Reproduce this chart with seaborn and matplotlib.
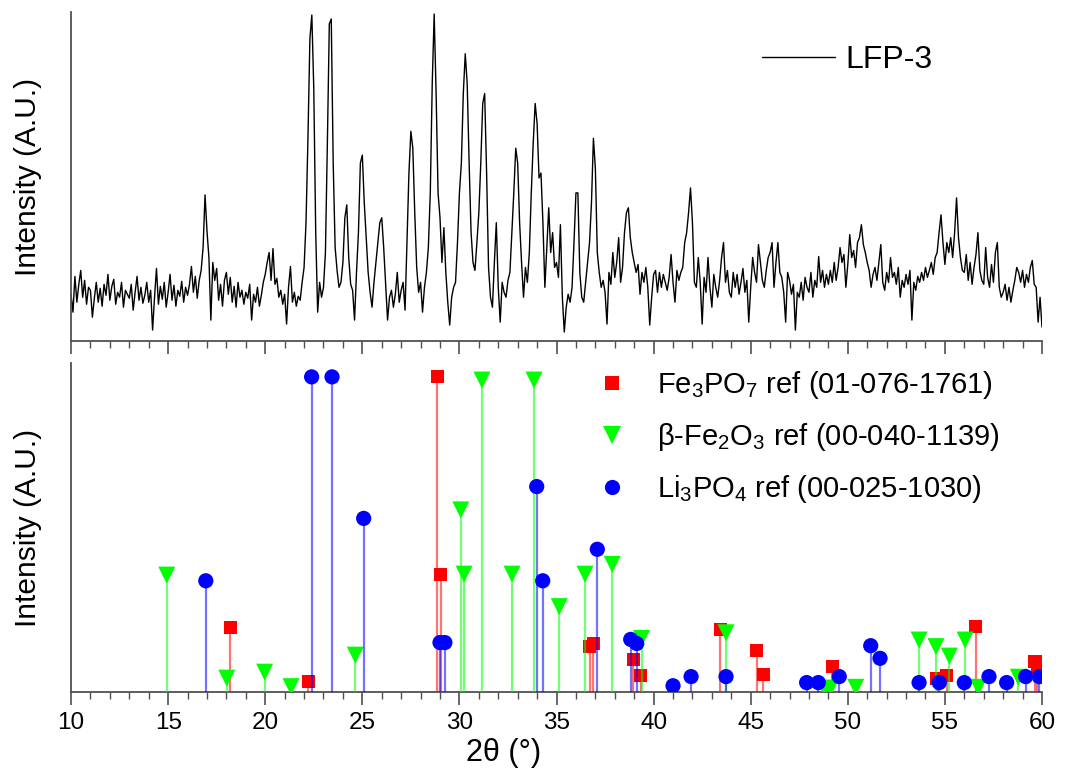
import numpy as np
import pandas as pd
import matplotlib
matplotlib.use("Agg")
import matplotlib.pyplot as plt
from matplotlib.lines import Line2D
from matplotlib.ticker import MultipleLocator
import seaborn as sns

# ---------------- data ----------------
two_theta_start = 10.0
two_theta_step = 0.1
lfp3_intensity = [
    48, 30, 66, 40, 58, 72, 45, 62, 38, 55,
    52, 25, 44, 60, 40, 54, 36, 58, 47, 68,
    42, 56, 63, 38, 50, 45, 60, 35, 52, 48,
    44, 58, 32, 50, 66, 42, 55, 39, 47, 60,
    40, 52, 12, 45, 74, 38, 56, 43, 60, 35,
    50, 68, 42, 57, 36, 52, 46, 61, 40, 55,
    47, 58, 76, 50, 66, 44, 62, 72, 95, 148,
    112, 85, 22, 80, 62, 74, 42, 58, 36, 62,
    70, 48, 65, 40, 56, 35, 60, 45, 52, 38,
    50, 44, 58, 22, 48, 40, 55, 36, 47, 60,
    68, 80, 90, 62, 94, 58, 64, 45, 52, 38,
    48, 18, 55, 76, 40, 50, 36, 46, 42, 60,
    75, 120, 205, 305, 329, 255, 110, 30, 60, 45,
    55, 90, 200, 320, 325, 180, 95, 72, 55, 60,
    80, 125, 138, 85, 58, 52, 22, 70, 110, 180,
    188, 140, 104, 70, 50, 35, 60, 80, 100, 120,
    125, 95, 58, 22, 45, 52, 35, 48, 70, 40,
    52, 60, 32, 100, 170, 212, 195, 130, 75, 50,
    60, 30, 55, 70, 95, 150, 260, 330, 250, 150,
    125, 80, 115, 70, 40, 17, 45, 55, 60, 100,
    150, 180, 250, 290, 260, 180, 110, 80, 72, 100,
    130, 180, 240, 250, 170, 75, 45, 35, 80, 120,
    55, 20, 60, 50, 45, 62, 70, 110, 150, 195,
    180, 120, 80, 45, 75, 60, 90, 150, 200, 240,
    220, 165, 170, 120, 55, 95, 135, 90, 110, 75,
    80, 65, 118, 45, 10, 35, 48, 40, 55, 100,
    150, 150, 70, 45, 40, 60, 80, 100, 140, 205,
    175, 90, 70, 55, 62, 50, 18, 70, 58, 90,
    65, 80, 105, 60, 75, 110, 130, 135, 105, 90,
    80, 70, 78, 48, 70, 60, 75, 55, 17, 45,
    68, 72, 50, 70, 55, 68, 60, 52, 65, 88,
    60, 40, 72, 62, 70, 75, 100, 110, 130, 155,
    120, 60, 55, 85, 60, 18, 65, 50, 85, 55,
    35, 68, 55, 45, 62, 85, 100, 60, 72, 50,
    45, 70, 55, 68, 48, 60, 74, 50, 62, 20,
    55, 85, 70, 60, 98, 80, 62, 55, 72, 85,
    90, 100, 55, 80, 100, 70, 65, 50, 20, 70,
    62, 48, 58, 12, 50, 45, 60, 42, 65, 55,
    50, 70, 45, 62, 55, 86, 60, 72, 55, 68,
    58, 72, 60, 80, 62, 75, 95, 80, 88, 55,
    78, 108, 85, 92, 75, 100, 105, 118, 98, 90,
    80, 72, 55, 68, 75, 62, 80, 98, 60, 52,
    70, 60, 85, 65, 70, 58, 75, 45, 62, 55,
    68, 58, 72, 22, 60, 52, 66, 60, 70, 62,
    75, 65, 72, 80, 68, 85, 90, 110, 128, 100,
    78, 100, 90, 105, 85, 110, 145, 105, 85, 72,
    70, 88, 62, 80, 58, 75, 88, 110, 72, 62,
    58, 95, 65, 55, 78, 60, 90, 100, 55, 45,
    50, 58, 42, 55, 40, 52, 62, 75, 70, 60,
    72, 55, 68, 60, 75, 82, 58, 55, 20, 45,
    15,
]

fe3po7_pos = [18.19, 22.22, 28.86, 29.04, 36.72, 36.90, 38.96, 39.33, 43.42,
              45.31, 45.65, 49.20, 54.58, 55.10, 56.60, 59.64, 59.76]
fe3po7_int = [20.5, 3.3, 100, 37.4, 14.4, 15.4, 10.2, 5.1, 19.7,
              13.1, 5.6, 8.0, 4.3, 5.4, 20.7, 9.6, 7.0]

fe2o3_pos = [14.93, 18.02, 19.97, 21.33, 24.64, 30.07, 30.24, 31.16, 32.71,
             33.84, 35.14, 36.47, 37.87, 39.38, 43.73, 48.80, 49.10, 50.41,
             53.67, 54.54, 55.23, 56.04, 56.72, 58.78]
fe2o3_int = [37.1, 4.4, 6.3, 1.7, 11.7, 57.8, 37.4, 99, 37.4,
             99, 27.1, 37.4, 40.5, 17.0, 18.8, 1.2, 1.2, 1.5,
             16.5, 14.4, 11.4, 16.5, 1.5, 4.7]

li3po4_pos = [16.94, 22.39, 23.44, 25.07, 29.00, 29.25, 33.98, 34.29, 37.10,
              38.82, 39.13, 41.00, 41.93, 43.73, 47.88, 48.48, 49.56, 51.18,
              51.66, 53.67, 54.71, 56.00, 57.27, 58.18, 59.16, 59.86]
li3po4_int = [35.3, 100, 100, 55.1, 15.7, 15.7, 65.2, 35.3, 45.3,
              16.7, 15.4, 2.0, 4.9, 4.9, 3.0, 3.0, 4.9, 14.7,
              10.7, 3.0, 3.0, 3.0, 4.9, 3.0, 4.9, 4.9]

sample_label = "LFP-3"
ref_labels = [r"Fe$\mathregular{_3}$PO$\mathregular{_7}$ ref (01-076-1761)",
              r"β-Fe$\mathregular{_2}$O$\mathregular{_3}$ ref (00-040-1139)",
              r"Li$\mathregular{_3}$PO$\mathregular{_4}$ ref (00-025-1030)"]
x_label = "2θ (°)"
y_label = "Intensity (A.U.)"

# ---------------- style ----------------
sns.set_theme(style="white")
plt.rcParams['font.family'] = ['Liberation Sans', 'DejaVu Sans']
plt.rcParams['mathtext.fontset'] = 'custom'
plt.rcParams['mathtext.rm'] = 'Liberation Sans'
plt.rcParams['mathtext.it'] = 'Liberation Sans:italic'
plt.rcParams['text.color'] = 'black'
plt.rcParams['axes.labelcolor'] = 'black'
plt.rcParams['xtick.labelcolor'] = 'black'

spine_col = '#505050'

fig = plt.figure(figsize=(10.65, 7.76), dpi=100)
ax1 = fig.add_axes([0.0667, 0.5606, 0.9117, 0.4239])
ax2 = fig.add_axes([0.0667, 0.1082, 0.9117, 0.4240])

angles = np.round(two_theta_start + two_theta_step * np.arange(len(lfp3_intensity)), 2)
df = pd.DataFrame({"angle": angles, "intensity": lfp3_intensity})
sns.lineplot(data=df, x="angle", y="intensity", ax=ax1, color='black',
             lw=1.0, estimator=None, sort=False)
ax1.set_ylim(1, 332)

refs = [
    (fe3po7_pos, fe3po7_int, '#ff0000', 's', 88),
    (fe2o3_pos, fe2o3_int, '#00ff00', 'v', 150),
    (li3po4_pos, li3po4_int, '#0000ff', 'o', 120),
]
handles = []
for i, (pos, val, col, mk, sz) in enumerate(refs):
    ax2.vlines(pos, 0, val, colors=col, lw=1.6, alpha=0.55, zorder=2 + 2 * i)
    sns.scatterplot(x=pos, y=val, ax=ax2, color=col, marker=mk, s=sz,
                    edgecolor='none', linewidth=0, zorder=3 + 2 * i)
    handles.append(Line2D([], [], ls='none', marker=mk, color=col,
                          markersize=np.sqrt(sz), markeredgewidth=0))
ax2.set_ylim(0, 104.4)

for ax in (ax1, ax2):
    ax.set_xlim(10, 60)
    ax.xaxis.set_major_locator(MultipleLocator(5))
    ax.xaxis.set_minor_locator(MultipleLocator(1))
    ax.tick_params(axis='x', which='major', direction='out', length=9.5,
                   width=1.2, color=spine_col, bottom=True, labelsize=17.5,
                   pad=5, labelcolor='black')
    ax.tick_params(axis='x', which='minor', direction='out', length=5,
                   width=1.0, color=spine_col, bottom=True)
    ax.tick_params(axis='y', left=False, labelleft=False)
    for s in ('top', 'right'):
        ax.spines[s].set_visible(False)
    for s in ('left', 'bottom'):
        ax.spines[s].set_color(spine_col)
        ax.spines[s].set_linewidth(1.3)
    ax.set_ylabel(y_label, fontsize=21.5, color='black')
    ax.yaxis.set_label_coords(-0.030, 0.5)
    ax.set_xlabel("")

ax1.tick_params(axis='x', labelbottom=False)
ax2.set_xlabel(x_label, fontsize=22, color='black')
ax2.xaxis.set_label_coords(0.445, -0.14)

fig.legend(handles=[Line2D([], [], color='black', lw=1.0)], labels=[sample_label],
           loc='center left', bbox_to_anchor=(762 / 1065, 1 - 60 / 776),
           frameon=False, fontsize=23, handlelength=2.3, handletextpad=0.3,
           borderpad=0, borderaxespad=0, labelcolor='black')

fig.legend(handles=handles, labels=ref_labels, loc='center left',
           bbox_to_anchor=(597 / 1065, 1 - 437 / 776), frameon=False,
           fontsize=21, handlelength=1.0, handletextpad=1.05, labelspacing=0.68,
           borderpad=0, borderaxespad=0, labelcolor='black')

fig.savefig("out.png", dpi=100)
